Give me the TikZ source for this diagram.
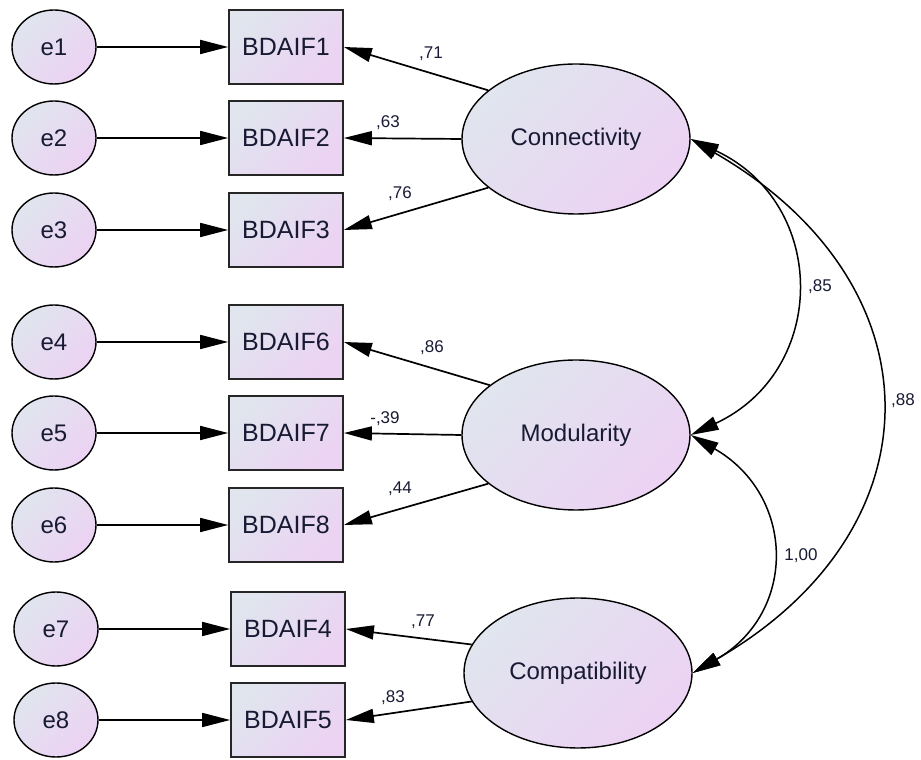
\documentclass[tikz,border=0pt]{standalone}
\usepackage{fontspec}
\setmainfont{Liberation Sans}
\usetikzlibrary{arrows.meta}
\usetikzlibrary{shapes.geometric}
\definecolor{shadeA}{RGB}{224,229,238}
\definecolor{shadeB}{RGB}{236,210,243}
\definecolor{ink}{RGB}{24,26,52}
\begin{document}
\begin{tikzpicture}[x=1pt,y=1pt,line width=1.7pt,>={Triangle[length=28pt,width=14pt]},
  err/.style={ellipse,draw,line width=1.4pt,minimum width=84pt,minimum height=74pt,inner sep=0pt,left color=shadeA,right color=shadeB,shading angle=45,text=ink,font=\fontsize{24}{28}\selectfont},
  obs/.style={rectangle,draw=black!85,line width=1.7pt,minimum width=114pt,minimum height=74pt,inner sep=0pt,left color=shadeA,right color=shadeB,shading angle=45,text=ink,font=\fontsize{25}{28}\selectfont},
  lat/.style={ellipse,draw,line width=1.4pt,minimum width=228pt,minimum height=150pt,inner sep=0pt,left color=shadeA,right color=shadeB,shading angle=45,text=ink,font=\fontsize{24}{28}\selectfont},
  coef/.style={text=ink,inner sep=0pt,font=\fontsize{17}{20}\selectfont}]
\useasboundingbox (0,0) rectangle (921,760);
\node[err] (e1) at (54,713) {e1};
\node[err] (e2) at (54,622) {e2};
\node[err] (e3) at (54,530) {e3};
\node[err] (e4) at (54,418) {e4};
\node[err] (e5) at (54,327) {e5};
\node[err] (e6) at (54,235) {e6};
\node[err] (e7) at (56,131) {e7};
\node[err] (e8) at (56,40) {e8};
\node[obs] (v1) at (286,713) {BDAIF1};
\node[obs] (v2) at (286,622) {BDAIF2};
\node[obs] (v3) at (286,530) {BDAIF3};
\node[obs] (v6) at (286,418) {BDAIF6};
\node[obs] (v7) at (286,327) {BDAIF7};
\node[obs] (v8) at (286,235) {BDAIF8};
\node[obs] (v4) at (288,131) {BDAIF4};
\node[obs] (v5) at (288,40) {BDAIF5};
\node[lat] (conn) at (576,621) {Connectivity};
\node[lat] (mod) at (576,325) {Modularity};
\node[lat] (comp) at (578,87) {Compatibility};
\path[->]
    (e1) edge (v1)
    (e2) edge (v2)
    (e3) edge (v3)
    (e4) edge (v6)
    (e5) edge (v7)
    (e6) edge (v8)
    (e7) edge (v4)
    (e8) edge (v5)
    (conn.151) edge (v1.east)
    (conn.west) edge (v2.east)
    (conn.209) edge (v3.east)
    (mod.150) edge (v6.east)
    (mod.west) edge (v7.east)
    (mod.209) edge (v8.east)
    (comp.165) edge (v4.east)
    (comp.195) edge (v5.east)
;
\path[<->,line width=1.5pt]
    (conn.east) edge[out=-25,in=25,looseness=1.32] (mod.east)
    (conn.east) edge[out=-30,in=30,looseness=1.38] (comp.east)
    (mod.east) edge[out=-30,in=30,looseness=1.3] (comp.east)
;
\node[coef] (l1) at (431,706) {,71};
\node[coef] (l2) at (388,637) {,63};
\node[coef] (l3) at (400,566) {,76};
\node[coef] (l6) at (432,412) {,86};
\node[coef] (l7) at (385,341) {-,39};
\node[coef] (l8) at (400,271) {,44};
\node[coef] (l4) at (423,138) {,77};
\node[coef] (l5) at (393,62) {,83};
\node[coef] (r1) at (820,473) {,85};
\node[coef] (r2) at (903,359) {,88};
\node[coef] (r3) at (801,204) {1,00};
\end{tikzpicture}
\end{document}
